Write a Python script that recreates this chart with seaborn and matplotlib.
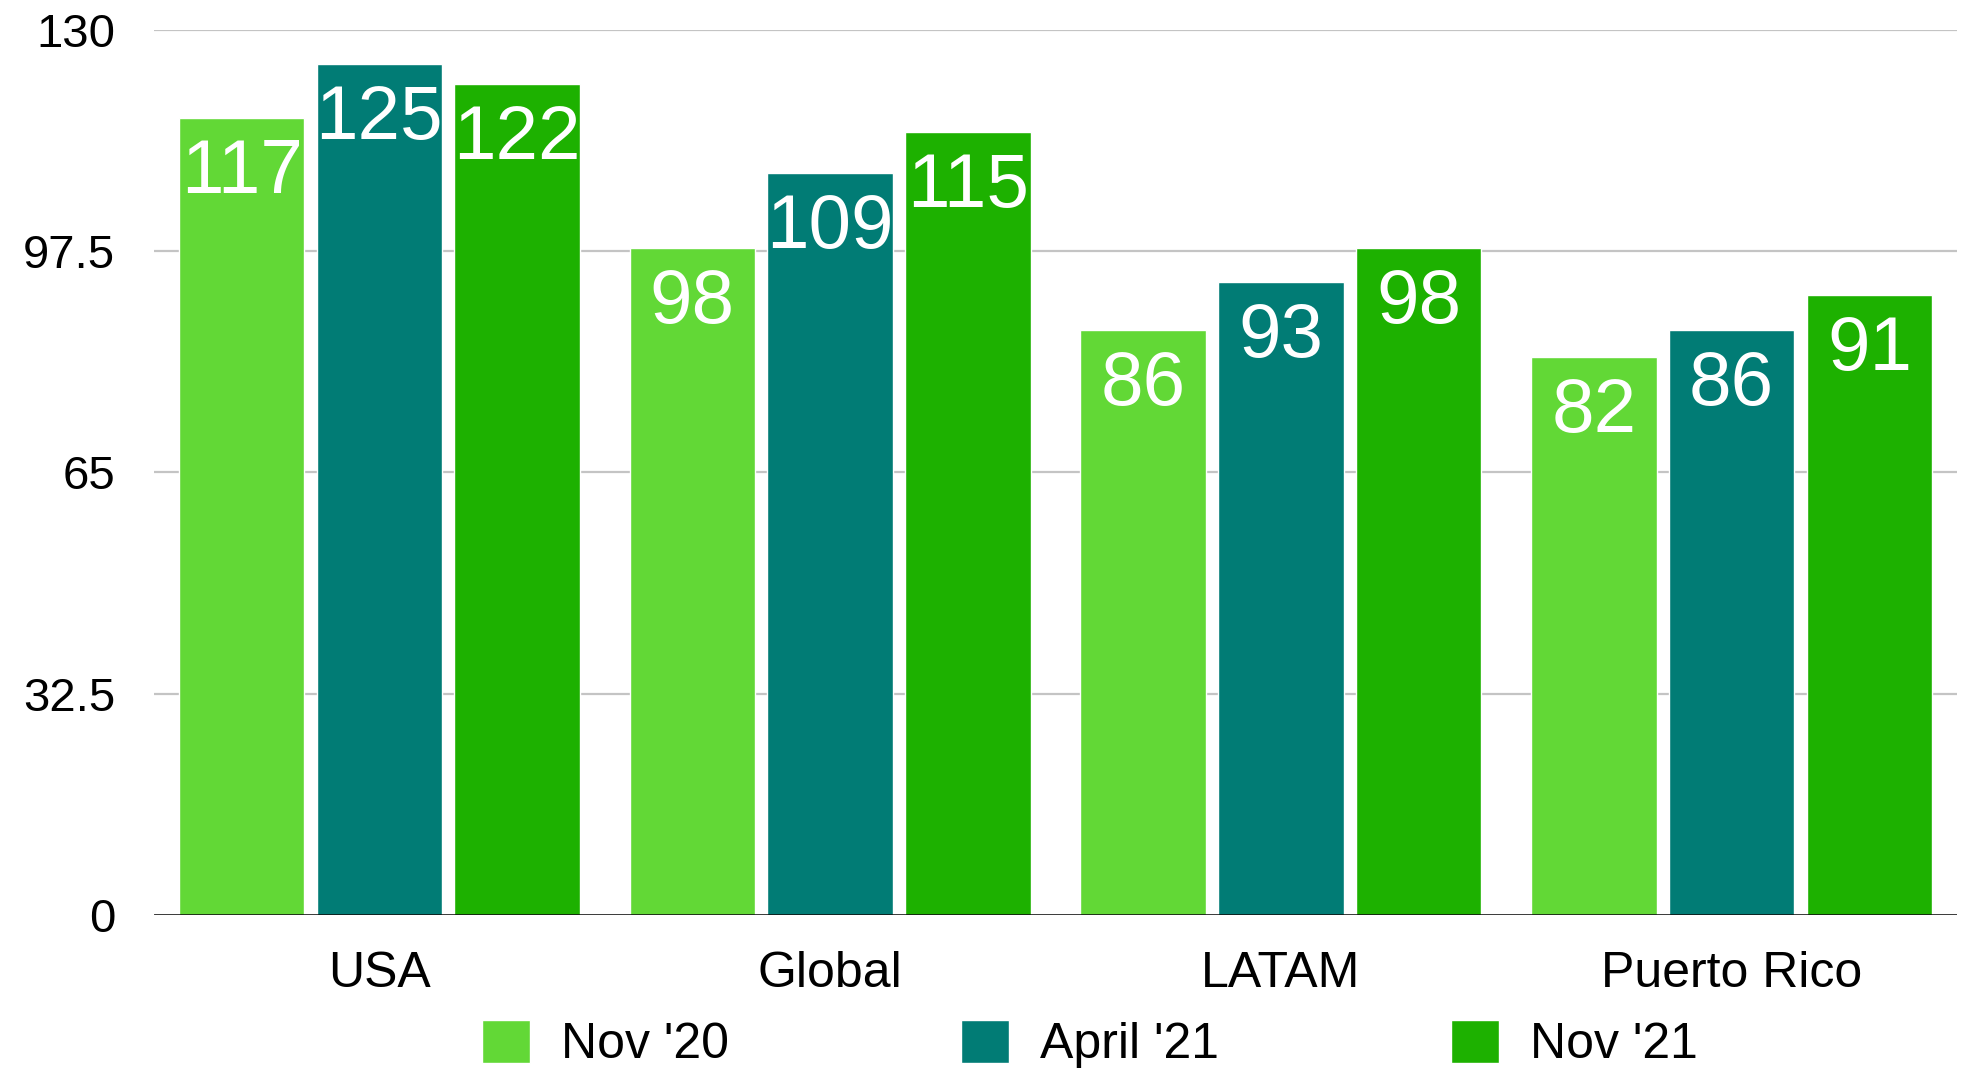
# imports
import pandas as pd
import numpy as np
import matplotlib.pyplot as plt
import seaborn as sns

# data
regions = ['USA', 'Global', 'LATAM', 'Puerto Rico']
periods = ["Nov '20", "April '21", "Nov '21"]
nov_20 = [117, 98, 86, 82]
apr_21 = [125, 109, 93, 86]
nov_21 = [122, 115, 98, 91]
y_ticks = [0, 32.5, 65, 97.5, 130]
y_tick_labels = ['0', '32.5', '65', '97.5', '130']

colors = ['#62D836', '#017C75', '#1DB100']

df = pd.DataFrame({
    'region': regions * 3,
    'period': [periods[0]] * 4 + [periods[1]] * 4 + [periods[2]] * 4,
    'value': nov_20 + apr_21 + nov_21,
})

sns.set_style('white')
plt.rcParams['font.family'] = ['Liberation Sans', 'DejaVu Sans']
plt.rcParams['text.color'] = 'black'
plt.rcParams['xtick.color'] = 'black'
plt.rcParams['ytick.color'] = 'black'

fig = plt.figure(figsize=(19.65, 10.69), dpi=100)
ax = fig.add_axes([154 / 1965, 1 - 915 / 1069, (1957 - 154) / 1965, (915 - 30) / 1069])

sns.barplot(data=df, x='region', y='value', hue='period', hue_order=periods,
            palette=colors, width=0.917, gap=0.09, saturation=1,
            errorbar=None, ax=ax, zorder=3)

# labels inside the bars
for container in ax.containers:
    for bar in container:
        h = bar.get_height()
        ax.annotate('{:d}'.format(int(round(h))),
                    (bar.get_x() + bar.get_width() / 2, h),
                    xytext=(0, -54), textcoords='offset points',
                    ha='center', va='baseline', color='white', fontsize=55, zorder=4)

ax.set_xlim(-0.5, 3.5)
ax.set_ylim(0, 130)
ax.set_yticks(y_ticks)
ax.set_yticklabels(y_tick_labels)
ax.set_xlabel('')
ax.set_ylabel('')

# grid lines
for y in y_ticks[1:]:
    ax.axhline(y, color='#C4C4C4', linewidth=1.6, zorder=1)
ax.axhline(0, color='black', linewidth=1.8, zorder=5)

for s in ax.spines.values():
    s.set_visible(False)

ax.tick_params(axis='y', length=0, pad=28, labelsize=34, labelcolor='black')
ax.tick_params(axis='x', length=0, pad=26, labelsize=36, labelcolor='black')

# legend below the chart
handles, labels = ax.get_legend_handles_labels()
ax.legend_.remove()
fig.legend(handles, labels, loc='center', bbox_to_anchor=(1090 / 1965, 1 - 1044 / 1069),
           ncol=3, frameon=False, fontsize=36, handlelength=0.95, handleheight=0.95,
           handletextpad=0.62, columnspacing=4.65, borderpad=0)

plt.savefig('out.png', dpi=100)
plt.close()
